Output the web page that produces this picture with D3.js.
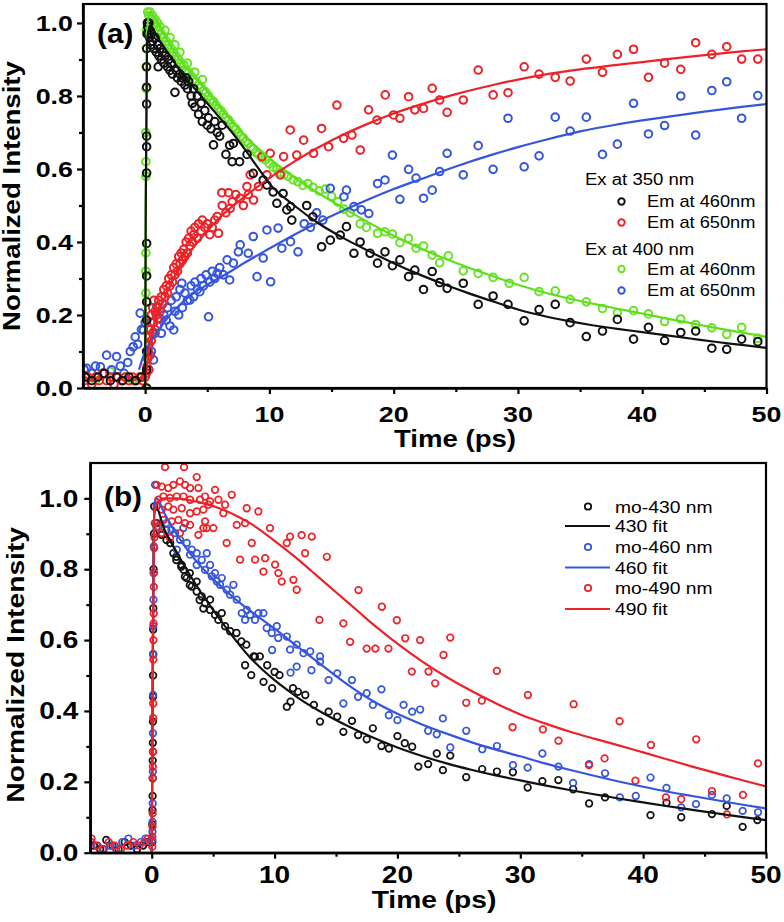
<!DOCTYPE html>
<html><head><meta charset="utf-8">
<script src="https://cdn.jsdelivr.net/npm/d3@7/dist/d3.min.js"></script>
<style>body{margin:0;background:#fff}</style>
</head><body>
<svg id="c" width="784" height="922"></svg>
<script>
// ---------------- DATA: panel (a) ----------------
const xTicks = [0, 10, 20, 30, 40, 50];
const xMinor = [5, 15, 25, 35, 45];
const yTicks = [0.0, 0.2, 0.4, 0.6, 0.8, 1.0];
const yMinor = [0.1, 0.3, 0.5, 0.7, 0.9];
const xLabel = "Time (ps)";
const yLabel = "Normalized Intensity";

const legendA = ["Ex at 350 nm", "Em at 460nm", "Em at 650nm", "Ex at 400 nm", "Em at 460nm", "Em at 650nm"];

// Ex 350 / Em 460 (black)
const a350em460 = [[-4.8,0.03],[-4.3,0.02],[-3.8,0.03],[-3.3,0.04],[-2.8,0.02],[-2.3,0.03],[-1.8,0.02],[-1.3,0.03],[-0.8,0.02],[-0.3,0.03],
[0.12,0.0],[0.12,0.05],[0.12,0.1],[0.12,0.186],[0.12,0.236],[0.12,0.307],[0.12,0.396],[0.12,0.589],[0.12,0.661],[0.12,0.69],[0.12,0.778],[0.12,0.824],[0.12,0.88],[0.13,0.93],[0.15,0.97],[0.18,1.0],
[0.2,0.99],[0.25,0.97],[0.3,1.0],[0.35,0.96],[0.4,0.98],[0.45,0.94],[0.5,0.97],[0.6,0.95],[0.7,0.93],[0.8,0.96],[0.9,0.92],[1.0,0.94],[1.05,0.88],[1.1,0.91],[1.2,0.93],[1.3,0.9],[1.4,0.92],[1.5,0.89],[1.6,0.91],[1.8,0.88],[1.9,0.9],[2.0,0.87],[2.1,0.89],[2.2,0.86],[2.4,0.81],[2.5,0.87],[2.6,0.85],[2.8,0.86],[2.9,0.84],[3.0,0.85],[3.2,0.83],[3.3,0.85],[3.4,0.82],[3.5,0.84],[3.7,0.8],[3.8,0.78],[3.9,0.82],[4.0,0.77],[4.2,0.8],[4.3,0.75],[4.5,0.78],[4.6,0.73],[4.8,0.76],[5.0,0.72],[5.1,0.74],[5.3,0.71],[5.5,0.666],[5.6,0.73],[5.8,0.70],[6.0,0.69],[6.2,0.72],[6.5,0.64],[6.8,0.665],[7.0,0.62],[7.1,0.67],[7.6,0.62],[8.2,0.64],[8.7,0.588],[9.5,0.57],[9.8,0.556],[10.3,0.537],[10.6,0.506],[11.1,0.533],[11.4,0.488],[11.7,0.497],[11.8,0.46],[13,0.5],[13.5,0.469],[14.2,0.387],[14.9,0.405],[15.7,0.419],[16.2,0.442],[16.8,0.369],[17.3,0.40],[18.1,0.369],[18.7,0.342],[19.3,0.373],[19.9,0.335],[20.5,0.351],[21.2,0.305],[21.7,0.323],[22.4,0.27],[23.1,0.319],[23.7,0.289],[24.3,0.273],[25.6,0.287],[26.8,0.229],[28,0.252],[29.2,0.229],[30.5,0.184],[31.7,0.215],[33,0.229],[34.2,0.179],[35.5,0.141],[36.8,0.156],[38,0.188],[39.3,0.134],[40.5,0.166],[41.8,0.13],[43.1,0.152],[44.3,0.156],[45.6,0.109],[46.8,0.106],[48,0.134],[49.3,0.127]];

// Ex 350 / Em 650 (red)
const a350em650 = [[-4.9,0.02],[-4.6,0.03],[-4.3,0.01],[-4.0,0.03],[-3.7,0.02],[-3.4,0.04],[-3.1,0.02],[-2.8,0.03],[-2.5,0.01],[-2.2,0.03],[-1.9,0.02],[-1.6,0.03],[-1.3,0.02],[-1.0,0.03],[-0.7,0.02],[-0.4,0.03],[-0.2,0.02],[0,0.03],
[0.1,0.04],[0.15,0.06],[0.2,0.08],[0.25,0.1],[0.3,0.05],[0.3,0.12],[0.35,0.14],[0.4,0.09],[0.4,0.16],[0.45,0.18],[0.5,0.13],[0.5,0.2],[0.6,0.15],[0.6,0.22],[0.7,0.18],[0.7,0.24],[0.8,0.16],[0.8,0.21],[0.9,0.2],[1.0,0.22],[1.0,0.19],[1.1,0.24],[1.2,0.21],[1.3,0.25],[1.4,0.23],[1.5,0.27],[1.6,0.25],[1.7,0.28],[1.8,0.26],[1.9,0.3],[2.0,0.28],[2.1,0.31],[2.2,0.29],[2.3,0.33],[2.4,0.31],[2.5,0.34],[2.6,0.32],[2.7,0.36],[2.8,0.34],[2.9,0.37],[3.0,0.35],[3.1,0.38],[3.2,0.36],[3.3,0.4],[3.4,0.37],[3.5,0.41],[3.6,0.39],[3.7,0.43],[3.8,0.4],[3.9,0.42],[4.0,0.44],[4.2,0.41],[4.3,0.45],[4.5,0.43],[4.6,0.46],[4.8,0.44],[5.0,0.45],[5.2,0.42],[5.4,0.44],[5.6,0.46],[5.8,0.47],[5.9,0.424],[6.2,0.5],[6.5,0.48],[7.0,0.51],[7.3,0.53],[7.9,0.5],[8.3,0.53],
[6.17,0.535],[6.71,0.535],[6.84,0.492],[7.65,0.52],[8.19,0.552],[8.45,0.584],[8.72,0.515],[9.12,0.552],[9.39,0.634],[9.8,0.584],[10.06,0.643],[10.87,0.584],[11.14,0.634],[11.67,0.707],[12.2,0.638],[12.75,0.679],[13.55,0.643],[14.2,0.711],[14.76,0.661],[15.43,0.775],[15.97,0.684],[16.64,0.693],[17.31,0.652],[17.98,0.762],[18.66,0.734],[19.32,0.803],[19.99,0.748],[20.5,0.739],[21.2,0.798],[21.7,0.762],[22.4,0.766],[23.1,0.821],[23.7,0.789],[24.3,0.755],[25.6,0.789],[26.8,0.871],[28,0.803],[29.2,0.809],[30.5,0.88],[31.7,0.86],[33,0.851],[34.2,0.841],[35.5,0.901],[36.8,0.865],[38,0.914],[39.3,0.928],[40.5,0.851],[41.8,0.89],[43.1,0.873],[44.3,0.946],[45.6,0.914],[46.8,0.935],[48,0.901],[49.3,0.901]];

// Ex 400 / Em 460 (green)
const a400em460 = [[-4.6,0.03],[-4.0,0.02],[-3.4,0.04],[-2.8,0.045],[-2.2,0.03],[-1.6,0.03],[-1.0,0.02],[-0.5,0.03],
[0.06,0.0],[0.06,0.26],[0.06,0.32],[0.06,0.37],[0.06,0.58],[0.06,0.62],[0.06,0.7],[0.07,0.82],[0.08,0.88],[0.09,0.93],[0.1,0.98],
[0.2,1.03],[0.3,1.02],[0.4,1.03],[0.5,1.01],[0.6,1.02],[0.7,1.0],[0.8,1.01],[0.9,0.99],[1.0,1.0],[1.1,0.98],[1.2,0.99],[1.3,0.97],[1.5,0.96],[1.6,0.98],[1.7,0.95],[1.9,0.94],[2.0,0.96],[2.1,0.93],[2.3,0.92],[2.4,0.94],[2.5,0.91],[2.7,0.9],[2.8,0.92],[2.9,0.89],[3.1,0.885],[3.3,0.87],[3.4,0.89],[3.5,0.865],[3.7,0.855],[3.9,0.845],[4.0,0.865],[4.1,0.84],[4.3,0.83],[4.5,0.825],[4.6,0.845],[4.7,0.815],[4.9,0.81],[5.1,0.8],[5.3,0.79],[5.5,0.785],[5.7,0.775],[5.9,0.765],[6.1,0.76],[6.3,0.75],[6.5,0.74],[6.7,0.735],[6.9,0.725],[7.1,0.715],[7.3,0.71],[7.5,0.70],[7.7,0.69],[7.9,0.685],[8.1,0.675],[8.3,0.67],[8.5,0.66],[8.7,0.655],[8.9,0.645],[9.1,0.64],[9.4,0.63],[9.7,0.625],[10.0,0.615],[10.3,0.605],[10.6,0.6],[10.9,0.59],[11.2,0.585],[11.5,0.58],[11.9,0.57],[12.3,0.565],[12.7,0.555],[13.1,0.56],[13.5,0.55],[14.0,0.54],[14.5,0.545],[15.0,0.525],[15.5,0.51],[16.0,0.49],[16.5,0.48],[17.3,0.45],[17.8,0.44],[18.7,0.424],[19.3,0.428],[19.9,0.422],[20.5,0.398],[21.2,0.41],[21.8,0.383],[22.4,0.389],[23.1,0.364],[23.7,0.343],[24.4,0.362],[25.6,0.321],[26.8,0.314],[28,0.303],[29.3,0.287],[30.5,0.303],[31.7,0.264],[33,0.266],[34.2,0.243],[35.5,0.236],[36.8,0.218],[38,0.206],[39.3,0.212],[40.5,0.203],[41.8,0.182],[43.1,0.189],[44.3,0.174],[45.6,0.165],[46.8,0.147],[48,0.166],[49.3,0.136]];

// Ex 400 / Em 650 (blue)
const a400em650 = [[-4.9,0.05],[-4.7,0.054],[-4.3,0.04],[-4.0,0.06],[-3.6,0.058],[-3.3,0.04],[-3.1,0.09],[-2.7,0.05],[-2.3,0.086],[-2.0,0.06],[-1.7,0.04],[-1.4,0.07],[-1.2,0.1],[-0.96,0.113],[-0.8,0.14],[-0.6,0.12],[-0.4,0.205],[-0.3,0.16],[-0.14,0.159],[0,0.18],
[0.3,0.12],[0.5,0.1],[0.67,0.077],[0.8,0.15],[0.94,0.223],[1.0,0.17],[1.2,0.19],[1.3,0.15],[1.5,0.2],[1.7,0.186],[1.8,0.22],[2.0,0.17],[2.1,0.24],[2.3,0.159],[2.4,0.21],[2.5,0.25],[2.7,0.2],[2.8,0.27],[2.95,0.287],[3.0,0.22],[3.2,0.26],[3.4,0.24],[3.6,0.241],[3.7,0.28],[3.9,0.25],[4.0,0.29],[4.2,0.27],[4.4,0.264],[4.5,0.3],[4.7,0.28],[4.9,0.31],[5.1,0.195],[5.2,0.29],[5.4,0.32],[5.6,0.3],[5.8,0.314],[6.0,0.33],[6.3,0.31],[6.6,0.351],[6.8,0.296],[7.1,0.342],[7.5,0.373],[7.65,0.392],[8.3,0.369],[8.7,0.415],[9.0,0.305],[9.5,0.356],[9.8,0.433],[10.1,0.291],[10.7,0.438],[11,0.383],[11.7,0.401],[12.3,0.373],[12.8,0.45],[13.3,0.44],[13.8,0.48],[14.3,0.46],
[14.9,0.547],[16,0.524],[16.2,0.542],[16.8,0.497],[17.4,0.488],[18,0.478],[18.7,0.56],[19.3,0.57],[19.9,0.638],[20.5,0.517],[21.2,0.599],[21.8,0.575],[22.4,0.52],[23.1,0.542],[23.7,0.593],[24.3,0.643],[25.6,0.584],[26.8,0.664],[28,0.599],[29.2,0.739],[30.5,0.606],[31.7,0.636],[33,0.742],[34.2,0.704],[35.5,0.742],[36.8,0.64],[38,0.668],[39.3,0.78],[40.5,0.696],[41.8,0.719],[43.1,0.8],[44.3,0.693],[45.6,0.815],[46.8,0.839],[48,0.739],[49.3,0.801]];

// fit curves panel (a)
const fitA350em460 = [[0,0],[0.05,0.5],[0.15,0.95],[0.4,0.99],[1,0.96],[2,0.91],[3,0.86],[4,0.82],[5,0.78],[6,0.74],[7,0.70],[8,0.655],[9,0.607],[10,0.56],[12,0.5],[14,0.45],[16,0.41],[18,0.375],[20,0.342],[22,0.312],[24,0.285],[26,0.26],[28,0.237],[30,0.215],[32,0.198],[34,0.184],[36,0.172],[38,0.162],[40,0.153],[42,0.144],[44,0.135],[46,0.126],[48,0.118],[50,0.11]];
const fitA350em650 = [[-0.3,0.02],[0,0.03],[0.3,0.1],[0.6,0.16],[1,0.2],[1.5,0.24],[2,0.28],[3,0.34],[4,0.39],[5,0.43],[6,0.467],[7,0.497],[8,0.524],[9,0.55],[10,0.575],[12,0.62],[14,0.66],[16,0.695],[18,0.725],[20,0.752],[22,0.775],[25,0.805],[28,0.83],[30,0.845],[32,0.858],[35,0.873],[38,0.885],[40,0.893],[42,0.901],[45,0.912],[48,0.922],[50,0.928]];
const fitA400em460 = [[0,0],[0.05,0.5],[0.15,0.98],[0.4,1.03],[1,1.0],[2,0.94],[3,0.89],[4,0.85],[5,0.812],[6,0.77],[7,0.73],[8,0.692],[9,0.66],[10,0.63],[12,0.577],[14,0.533],[16,0.492],[18,0.453],[20,0.417],[22,0.385],[24,0.356],[26,0.33],[28,0.306],[30,0.283],[32,0.263],[34,0.246],[36,0.231],[38,0.217],[40,0.204],[42,0.19],[44,0.177],[46,0.164],[48,0.152],[50,0.14]];
const fitA400em650 = [[-0.5,0.05],[0,0.1],[0.5,0.13],[1,0.155],[2,0.2],[3,0.235],[4,0.262],[5,0.283],[6,0.302],[7,0.322],[8,0.343],[10,0.382],[12,0.42],[14,0.455],[16,0.487],[18,0.517],[20,0.545],[22,0.57],[25,0.607],[28,0.64],[30,0.66],[32,0.678],[35,0.703],[38,0.722],[40,0.733],[42,0.743],[45,0.757],[48,0.77],[50,0.778]];

// ---------------- DATA: panel (b) ----------------
const legendB = ["mo-430 nm", "430 fit", "mo-460 nm", "460 fit", "mo-490 nm", "490 fit"];

const mo430 = [[-4.7,0.02],[-4.2,0.01],[-3.7,0.036],[-3.2,0.02],[-2.7,0.01],[-2.2,0.03],[-1.7,0.02],[-1.2,0.01],[-0.7,0.02],[-0.3,0.03],
[0.05,0.03],[0.05,0.08],[0.06,0.12],[0.07,0.16],[0.08,0.21],[0.08,0.26],[0.09,0.31],[0.1,0.37],[0.1,0.44],[0.11,0.5],[0.12,0.56],[0.12,0.63],[0.13,0.69],[0.15,0.8],[0.18,0.9],
[0.2,0.977],[0.4,0.93],[0.8,0.897],[1.2,0.882],[1.5,0.874],[1.76,0.845],[2.0,0.826],[2.0,0.835],[2.4,0.807],[2.44,0.812],[2.6,0.798],[2.7,0.779],[2.85,0.775],[3.1,0.789],[3.1,0.755],[3.26,0.751],[3.66,0.765],[3.66,0.737],[3.9,0.713],[4.07,0.723],[4.2,0.689],[4.34,0.704],[4.75,0.714],[4.75,0.685],[5.15,0.671],[5.42,0.657],[5.7,0.676],[5.97,0.639],[6.38,0.625],[6.9,0.62],[7.3,0.596],[7.6,0.529],[7.7,0.587],[8.1,0.501],[8.3,0.554],[8.4,0.553],[8.8,0.554],[9.1,0.482],[9.4,0.529],[9.8,0.464],[10,0.51],[10.4,0.501],[11,0.412],[11.3,0.426],[11.5,0.464],[11.9,0.454],[12.5,0.445],[13.2,0.417],[13.7,0.37],[14.4,0.398],[15.1,0.384],[15.6,0.341],[16.3,0.372],[16.8,0.332],[17.5,0.32],[18,0.351],[18.7,0.301],[19.3,0.294],[20,0.329],[20.6,0.309],[21.2,0.299],[21.7,0.243],[22.5,0.25],[23.2,0.28],[23.7,0.233],[24.3,0.274],[25.6,0.213],[26.9,0.236],[28.1,0.229],[29.4,0.227],[30.6,0.184],[31.8,0.202],[33.1,0.205],[34.3,0.179],[35.6,0.139],[36.9,0.156],[40.6,0.106],[41.9,0.141],[43.1,0.1],[45.6,0.109],[46.8,0.132],[48.1,0.073],[49.3,0.092]];

const mo460 = [[-4.9,0.03],[-4.4,0.02],[-3.9,0.01],[-3.4,0.02],[-2.9,0.01],[-2.4,0.03],[-1.9,0.04],[-1.4,0.02],[-0.9,0.03],[-0.5,0.04],
[0.05,0.036],[0.06,0.059],[0.07,0.087],[0.08,0.139],[0.09,0.229],[0.1,0.285],[0.1,0.337],[0.11,0.445],[0.12,0.559],[0.13,0.639],[0.14,0.714],[0.15,0.789],[0.17,0.864],
[0.27,1.038],[0.4,0.92],[1.2,0.93],[1.2,0.91],[1.6,0.911],[1.9,0.902],[2.04,0.855],[2.3,0.883],[2.57,0.916],[2.85,0.874],[3.12,0.841],[3.26,0.855],[3.66,0.845],[3.66,0.812],[4.07,0.826],[4.34,0.798],[4.48,0.845],[4.75,0.812],[4.89,0.78],[5.15,0.789],[5.29,0.766],[5.56,0.756],[5.7,0.775],[6.1,0.742],[6.38,0.728],[6.65,0.756],[6.92,0.714],[7.33,0.676],[7.6,0.657],[7.74,0.685],[8.0,0.671],[8.41,0.657],[8.68,0.676],[9.09,0.676],[9.36,0.634],[9.77,0.62],[9.8,0.572],[10.18,0.639],[10.3,0.606],[11.0,0.61],[11.26,0.573],[11.3,0.508],[11.8,0.587],[11.8,0.525],[12.35,0.563],[12.9,0.568],[13,0.515],[13.7,0.554],[13.7,0.539],[14.4,0.487],[15.1,0.506],[15.6,0.421],[16.3,0.487],[16.8,0.44],[17.5,0.45],[18,0.417],[18.7,0.461],[19.3,0.388],[20,0.374],[20.5,0.417],[21.2,0.398],[21.85,0.404],[22.5,0.344],[23.2,0.334],[23.7,0.379],[24.3,0.297],[25.6,0.344],[26.9,0.292],[28.1,0.301],[29.4,0.247],[30.6,0.24],[31.8,0.28],[33.1,0.243],[34.3,0.197],[35.6,0.25],[36.9,0.224],[38.1,0.156],[39.4,0.16],[40.6,0.212],[41.9,0.183],[43.1,0.128],[44.3,0.137],[45.6,0.163],[46.8,0.153],[48.1,0.118],[49.35,0.114]];

const mo490 = [[-4.9,0.04],[-4.5,0.02],[-4.0,0.01],[-3.5,0.03],[-3.0,0.02],[-2.5,0.01],[-2.0,0.02],[-1.5,0.03],[-1.0,0.02],[-0.6,0.03],[-0.3,0.04],
[0.05,0.017],[0.05,0.045],[0.06,0.073],[0.07,0.111],[0.08,0.21],[0.09,0.243],[0.1,0.285],[0.11,0.38],[0.12,0.421],[0.13,0.545],[0.14,0.6],[0.15,0.647],[0.16,0.675],[0.17,0.75],[0.18,0.79],[0.2,0.86],[0.22,0.89],[0.25,0.93],
[0.4,1.038],[0.81,1.033],[1.08,1.088],[1.35,1.029],[1.76,1.038],[2.3,1.048],[2.63,1.088],[2.71,1.038],[3.12,1.029],[3.66,1.06],[3.8,1.029],[4.34,1.005],[5.15,1.024],[5.43,0.996],[4.75,0.991],[3.93,0.996],[3.12,0.996],[2.58,1.005],[2.03,1.005],[1.49,1.001],[0.95,1.005],[0.54,0.996],[0.4,0.977],[0.81,0.968],[1.35,0.977],[1.76,0.968],[2.44,0.972],[3.12,0.958],[3.66,0.963],[4.2,0.968],[4.61,0.982],[5.97,0.982],[6.51,1.01],[5.83,0.958],[4.34,0.935],[4.47,0.916],[5.02,0.916],[4.2,0.916],[3.12,0.925],[2.71,0.93],[2.17,0.939],[1.63,0.935],[0.95,0.939],[0.54,0.92],[0.81,0.902],[1.49,0.888],[2.3,0.902],[3.8,0.897],[7.73,0.972],[8.68,0.963],[6.92,0.925],[7.6,0.93],[9.63,0.916],[11.26,0.892],[13.03,0.892],[12.2,0.896],[6.1,0.874],[8.14,0.874],[10.99,0.874],[7.19,0.827],[8.41,0.827],[9.23,0.831],[10.04,0.813],[10.31,0.789],[9.09,0.793],[10.58,0.765],[11.53,0.77],[11.8,0.742],[12.48,0.845],[14.25,0.835],[13.65,0.657],[15.6,0.647],[16.15,0.595],[16.83,0.741],[17.5,0.576],[18.2,0.576],[18.73,0.694],[19.27,0.576],[19.95,0.656],[20.63,0.605],[21.17,0.511],[21.85,0.6],[22.53,0.511],[23.07,0.478],[23.75,0.558],[24.3,0.607],[25.6,0.423],[26.87,0.429],[28.09,0.513],[29.37,0.354],[30.62,0.445],[31.84,0.348],[33.11,0.316],[34.34,0.419],[35.59,0.247],[36.86,0.266],[38.08,0.371],[39.37,0.203],[40.63,0.304],[41.85,0.156],[43.1,0.151],[44.32,0.32],[45.6,0.174],[46.82,0.108],[48.12,0.163],[49.35,0.252]];

const fit430 = [[0,0],[0.1,0.6],[0.2,0.97],[0.4,0.97],[1,0.915],[2,0.85],[3,0.79],[4,0.735],[5,0.685],[6,0.637],[7,0.592],[8,0.551],[9,0.517],[10,0.487],[11,0.46],[12,0.435],[14,0.393],[16,0.357],[18,0.325],[20,0.297],[22,0.273],[24,0.252],[26,0.234],[28,0.218],[30,0.204],[32,0.19],[34,0.177],[36,0.165],[38,0.153],[40,0.142],[42,0.131],[44,0.121],[46,0.111],[48,0.101],[50,0.092]];
const fit460 = [[0,0],[0.1,0.6],[0.2,0.98],[0.4,1.0],[1,0.96],[2,0.9],[3,0.85],[4,0.808],[5,0.772],[6,0.74],[7,0.71],[8,0.683],[10,0.632],[12,0.578],[14,0.525],[16,0.473],[18,0.428],[20,0.392],[22,0.362],[24,0.336],[26,0.312],[28,0.291],[30,0.272],[32,0.252],[34,0.234],[36,0.217],[38,0.201],[40,0.186],[42,0.172],[44,0.16],[46,0.148],[48,0.136],[50,0.125]];
const fit490 = [[0,0],[0.1,0.6],[0.2,0.95],[0.5,0.99],[1,1.0],[2,1.0],[3,0.995],[4,0.988],[5,0.978],[6,0.965],[7,0.949],[8,0.93],[9,0.906],[10,0.88],[11,0.853],[12,0.825],[13,0.795],[14,0.765],[15,0.735],[16,0.705],[17,0.675],[18,0.645],[19,0.617],[20,0.59],[22,0.54],[24,0.496],[26,0.457],[28,0.422],[30,0.39],[32,0.365],[34,0.342],[36,0.322],[38,0.303],[40,0.283],[42,0.263],[44,0.243],[46,0.224],[48,0.205],[50,0.187]];

// ---------------- DRAWING ----------------
const C = {black:"#111111", red:"#ec2228", green:"#66e424", blue:"#3556dc"};
const FONT = "'Liberation Sans', Arial, Helvetica, sans-serif";
const svg = d3.select("#c");
svg.append("rect").attr("width",784).attr("height",922).attr("fill","#fff");

function txt(g, x, y, s, o) {
  o = Object.assign({size:20, weight:"bold", anchor:"start", sx:1.2, rot:0}, o||{});
  return g.append("text")
    .attr("transform", `translate(${x},${y}) rotate(${o.rot}) scale(${o.sx},1)`)
    .attr("text-anchor", o.anchor).attr("font-family", FONT)
    .attr("font-size", o.size).attr("font-weight", o.weight).attr("fill", "#000").text(s);
}

function panel(cfg) {
  const g = svg.append("g");
  const x = d3.scaleLinear().domain([-5, 50]).range([cfg.x0, cfg.x1]);
  const y = d3.scaleLinear().domain([0, cfg.ymax]).range([cfg.y0, cfg.y1]);
  const id = "clip" + cfg.name;
  svg.append("clipPath").attr("id", id).append("rect")
    .attr("x", cfg.x0).attr("y", cfg.y1).attr("width", cfg.x1 - cfg.x0).attr("height", cfg.y0 - cfg.y1);
  const plot = g.append("g").attr("clip-path", `url(#${id})`);

  cfg.points.forEach(s => {
    plot.append("g").selectAll("circle").data(s.data).join("circle")
      .attr("cx", d => x(d[0])).attr("cy", d => y(d[1])).attr("r", cfg.r)
      .attr("fill", "none").attr("stroke", s.color).attr("stroke-width", cfg.sw);
  });
  const line = d3.line().x(d => x(d[0])).y(d => y(d[1])).curve(d3.curveMonotoneX);
  cfg.fits.forEach(s => {
    plot.append("path").datum(s.data).attr("d", line).attr("fill", "none")
      .attr("stroke", s.color).attr("stroke-width", 2.2);
  });

  // frame
  g.append("rect").attr("x", cfg.x0).attr("y", cfg.y1).attr("width", cfg.x1 - cfg.x0)
    .attr("height", cfg.y0 - cfg.y1).attr("fill", "none").attr("stroke", "#000").attr("stroke-width", 2.2);

  // axes
  const ax = (a) => a.call(s => { s.selectAll("path,line").attr("stroke", "#000").attr("stroke-width", 2.2); s.selectAll("text").remove(); });
  g.append("g").attr("transform", `translate(0,${cfg.y0})`).call(d3.axisBottom(x).tickValues(xTicks).tickSize(6).tickSizeOuter(0)).call(ax);
  g.append("g").attr("transform", `translate(0,${cfg.y0})`).call(d3.axisBottom(x).tickValues(xMinor).tickSize(4).tickSizeOuter(0)).call(ax);
  g.append("g").attr("transform", `translate(${cfg.x0},0)`).call(d3.axisLeft(y).tickValues(yTicks).tickSize(6).tickSizeOuter(0)).call(ax);
  g.append("g").attr("transform", `translate(${cfg.x0},0)`).call(d3.axisLeft(y).tickValues(yMinor).tickSize(4).tickSizeOuter(0)).call(ax);

  xTicks.forEach(v => txt(g, x(v), cfg.y0 + cfg.xlabOff, d3.format("d")(v), {size: cfg.tick, anchor: "middle", sx: 1.22}));
  yTicks.forEach(v => txt(g, cfg.x0 - cfg.ylabOff, y(v) + cfg.tick * 0.36, d3.format(".1f")(v), {size: cfg.tick, anchor: "end", sx: 1.22}));
  txt(g, cfg.xTitleX, cfg.xTitleY, xLabel, {size: cfg.title, anchor: "middle", sx: 1.2});
  txt(g, cfg.yTitleX, (cfg.y0 + cfg.y1) / 2 + cfg.yTitleDy, yLabel, {size: cfg.title, anchor: "middle", sx: 1.2, rot: -90});
  txt(g, cfg.tagX, cfg.tagY, cfg.tag, {size: 27, anchor: "start", sx: 1.1});
  return {g, x, y};
}

// Panel (a)
const A = panel({
  name: "a", x0: 83, x1: 766.5, y0: 388, y1: 4, ymax: 1.052, r: 3.8, sw: 2.0,
  tick: 22, title: 23, xlabOff: 34, ylabOff: 10,
  xTitleX: 455, xTitleY: 447, yTitleX: 20, yTitleDy: 0,
  tag: "(a)", tagX: 97, tagY: 43,
  points: [
    {data: a400em460, color: C.green},
    {data: a400em650, color: C.blue},
    {data: a350em650, color: C.red},
    {data: a350em460, color: C.black}
  ],
  fits: [
    {data: fitA400em460, color: "#5fde1c"},
    {data: fitA400em650, color: C.blue},
    {data: fitA350em650, color: C.red},
    {data: fitA350em460, color: C.black}
  ]
});

// legend (a)
(function(){
  const g = A.g;
  const cols = [null, C.black, C.red, null, C.green, C.blue];
  const base = [185, 207, 228, 255, 274.5, 296];
  legendA.forEach((s, i) => {
    if (cols[i] === null) {
      txt(g, 585, base[i], s, {size: 16, weight: "normal", sx: 1.16});
    } else {
      g.append("circle").attr("cx", 621.5).attr("cy", base[i] - 5.5).attr("r", 3.2)
        .attr("fill", "none").attr("stroke", cols[i]).attr("stroke-width", 2);
      txt(g, 647, base[i], s, {size: 16, weight: "normal", sx: 1.14});
    }
  });
})();

// Panel (b)
const B = panel({
  name: "b", x0: 90.3, x1: 766, y0: 852.7, y1: 463, ymax: 1.0997, r: 3.3, sw: 1.7,
  tick: 23, title: 23.5, xlabOff: 30.5, ylabOff: 12,
  xTitleX: 434, xTitleY: 908, yTitleX: 23.5, yTitleDy: 7,
  tag: "(b)", tagX: 104, tagY: 506,
  points: [
    {data: mo430, color: C.black},
    {data: mo460, color: C.blue},
    {data: mo490, color: C.red}
  ],
  fits: [
    {data: fit430, color: C.black},
    {data: fit460, color: C.blue},
    {data: fit490, color: C.red}
  ]
});

// legend (b)
(function(){
  const g = B.g;
  const cols = [C.black, C.black, C.blue, C.blue, C.red, C.red];
  const base = [512.5, 532, 553, 573.5, 594, 615];
  legendB.forEach((s, i) => {
    if (i % 2 === 0) {
      g.append("circle").attr("cx", 588).attr("cy", base[i] - 6).attr("r", 3.2)
        .attr("fill", "none").attr("stroke", cols[i]).attr("stroke-width", 1.8);
    } else {
      g.append("line").attr("x1", 565).attr("x2", 610).attr("y1", base[i] - 6).attr("y2", base[i] - 6)
        .attr("stroke", cols[i]).attr("stroke-width", 2.2);
    }
    txt(g, 615, base[i], s, {size: 16.5, weight: "normal", sx: 1.17});
  });
})();
</script>
</body></html>
